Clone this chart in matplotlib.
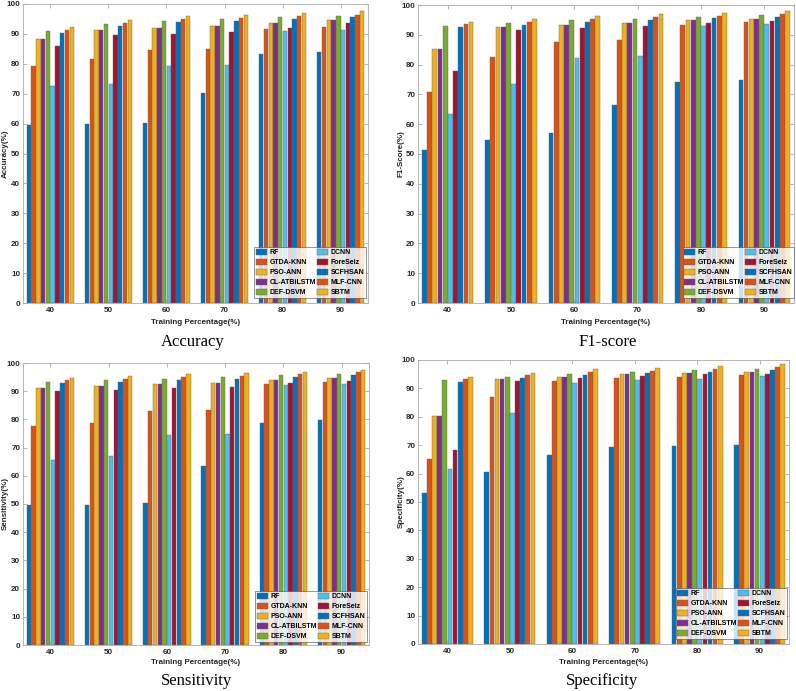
import matplotlib
matplotlib.use('Agg')
import matplotlib.pyplot as plt
import numpy as np

# training percentages (x groups)
train_pct = [40, 50, 60, 70, 80, 90]

methods_a = ['RF', 'GTDA-KNN', 'PSO-ANN', 'CL-ATBiLSTM', 'DEF-DSVM',
             'DCNN', 'ForeSeiz', 'SCFHSAN', 'MLF-CNN', 'SBTM']
methods_b = ['RF', 'GTDA-KNN', 'PSO-ANN', 'CL-ATBILSTM', 'DEF-DSVM',
             'DCNN', 'ForeSeiz', 'SCFHSAN', 'MLF-CNN', 'SBTM']

# MATLAB default colour order, repeated for the last three methods
colors = ['#0072BD', '#D95319', '#EDB120', '#7E2F8E', '#77AC30',
          '#4DBEEE', '#A2142F', '#0072BD', '#D95319', '#EDB120']

# values per method, one entry per training percentage
accuracy = {
    'RF':          [59.4, 59.7, 60.2, 70.3, 83.2, 83.8],
    'GTDA-KNN':    [79.2, 81.5, 84.6, 85.1, 91.6, 92.4],
    'PSO-ANN':     [88.2, 91.2, 92.0, 92.5, 93.5, 94.6],
    'CL-ATBiLSTM': [88.2, 91.2, 92.0, 92.5, 93.5, 94.6],
    'DEF-DSVM':    [90.9, 93.3, 94.3, 95.0, 95.5, 96.1],
    'DCNN':        [72.5, 73.4, 79.2, 79.6, 91.0, 91.2],
    'ForeSeiz':    [85.9, 89.5, 90.1, 90.6, 92.0, 93.7],
    'SCFHSAN':     [90.4, 92.7, 93.9, 94.4, 95.0, 95.5],
    'MLF-CNN':     [91.3, 93.7, 94.9, 95.4, 96.0, 96.4],
    'SBTM':        [92.2, 94.6, 95.9, 96.4, 96.9, 97.5],
}
f1_score = {
    'RF':          [51.3, 54.6, 57.2, 66.3, 74.2, 74.7],
    'GTDA-KNN':    [70.8, 82.6, 87.5, 88.1, 93.4, 94.2],
    'PSO-ANN':     [85.4, 92.5, 93.4, 94.0, 94.8, 95.3],
    'CL-ATBiLSTM': [85.4, 92.5, 93.4, 94.0, 94.8, 95.3],
    'DEF-DSVM':    [93.1, 94.0, 94.8, 95.4, 96.0, 96.5],
    'DCNN':        [63.4, 73.5, 82.1, 83.0, 92.8, 93.6],
    'ForeSeiz':    [77.7, 91.6, 92.4, 93.1, 94.0, 94.7],
    'SCFHSAN':     [92.5, 93.4, 94.3, 94.8, 95.5, 96.1],
    'MLF-CNN':     [93.5, 94.4, 95.3, 95.9, 96.4, 97.0],
    'SBTM':        [94.4, 95.4, 96.3, 96.9, 97.4, 98.0],
}
sensitivity = {
    'RF':          [49.6, 49.8, 50.2, 63.6, 78.9, 79.7],
    'GTDA-KNN':    [77.7, 78.9, 82.9, 83.3, 92.7, 93.2],
    'PSO-ANN':     [91.3, 92.0, 92.7, 93.0, 94.0, 94.6],
    'CL-ATBiLSTM': [91.3, 92.0, 92.7, 93.0, 94.0, 94.6],
    'DEF-DSVM':    [93.3, 93.9, 94.5, 95.0, 95.6, 96.1],
    'DCNN':        [65.6, 67.0, 74.6, 75.0, 92.3, 92.7],
    'ForeSeiz':    [90.0, 90.4, 91.2, 91.6, 93.0, 93.6],
    'SCFHSAN':     [92.8, 93.4, 93.9, 94.5, 94.9, 95.6],
    'MLF-CNN':     [93.8, 94.3, 94.9, 95.5, 96.0, 96.7],
    'SBTM':        [94.8, 95.4, 96.0, 96.5, 96.9, 97.6],
}
specificity = {
    'RF':          [53.3, 60.5, 66.6, 69.3, 69.8, 70.2],
    'GTDA-KNN':    [65.0, 86.9, 92.7, 93.5, 94.1, 94.8],
    'PSO-ANN':     [80.2, 93.2, 94.1, 94.9, 95.4, 95.9],
    'CL-ATBiLSTM': [80.2, 93.2, 94.1, 94.9, 95.4, 95.9],
    'DEF-DSVM':    [92.8, 94.1, 95.2, 95.8, 96.4, 96.8],
    'DCNN':        [61.5, 81.4, 91.8, 92.8, 93.4, 94.4],
    'ForeSeiz':    [68.4, 92.6, 93.8, 94.4, 94.9, 95.1],
    'SCFHSAN':     [92.2, 93.6, 94.7, 95.3, 95.9, 96.5],
    'MLF-CNN':     [93.2, 94.6, 95.8, 96.2, 96.8, 97.4],
    'SBTM':        [94.1, 95.5, 96.7, 97.2, 97.8, 98.5],
}

W, H = 796, 691
plt.rcParams['font.family'] = ['Liberation Sans Narrow', 'Liberation Sans', 'DejaVu Sans']

fig = plt.figure(figsize=(W / 100, H / 100), dpi=100)


def px_axes(l, t, r, b):
    return fig.add_axes([l / W, (H - b) / H, (r - l) / W, (b - t) / H])


def draw_panel(ax, data, labels, ylabel, title, title_xy, xlabel_y, ylabel_x, leg_anchor):
    keys = list(data.keys())
    n = len(keys)
    step = 0.82
    x = np.array(train_pct, dtype=float)
    for i, k in enumerate(keys):
        off = (i - (n - 1) / 2) * step
        ax.bar(x + off, data[k], width=step * 0.92, color=colors[i],
               edgecolor='#666666', linewidth=0.3, label=labels[i])
    ax.set_xlim(35.3, 94.7)
    ax.set_ylim(0, 100)
    ax.set_xticks(train_pct)
    ax.set_yticks(np.arange(0, 101, 10))
    ax.tick_params(direction='in', top=True, right=True, length=3,
                   width=0.5, color='#999999', labelsize=5.8,
                   labelcolor='#262626', pad=3)
    ax.tick_params(axis='y', pad=2)
    for lab in ax.get_xticklabels() + ax.get_yticklabels():
        lab.set_fontweight('bold')
    for s in ax.spines.values():
        s.set_color('#aaaaaa')
        s.set_linewidth(0.6)
    bb = ax.get_position()
    fig.text(ylabel_x / W, (bb.y0 + bb.y1) / 2, ylabel, rotation=90,
             ha='center', va='center', fontsize=5.8, fontweight='bold',
             color='#262626')
    fig.text((bb.x0 + bb.x1) / 2, 1 - xlabel_y / H, 'Training Percentage(%)',
             ha='center', va='center', fontsize=5.8, fontweight='bold',
             color='#262626')
    fig.text(title_xy[0] / W, 1 - title_xy[1] / H, title, ha='center',
             va='center', fontsize=12, family='Liberation Serif')
    leg = ax.legend(ncol=2, loc='lower right',
                    bbox_to_anchor=(leg_anchor[0] / W, 1 - leg_anchor[1] / H),
                    bbox_transform=fig.transFigure,
                    prop={'size': 5, 'weight': 'bold'}, frameon=True,
                    fancybox=False, borderpad=0.25, labelspacing=0.4,
                    handlelength=1.6, handleheight=0.9, handletextpad=0.3,
                    columnspacing=0.2, borderaxespad=0)
    leg.get_frame().set_edgecolor('#444444')
    leg.get_frame().set_linewidth(0.5)


ax1 = px_axes(23, 4, 368, 303)
draw_panel(ax1, accuracy, methods_a, 'Accuracy(%)', 'Accuracy', (193, 342), 322, 5, (366, 298))

ax2 = px_axes(418, 5, 794, 303)
draw_panel(ax2, f1_score, methods_b, 'F1-Score(%)', 'F1-score', (608, 342), 322, 401, (794, 298))

ax3 = px_axes(23, 363, 369, 645)
draw_panel(ax3, sensitivity, methods_b, 'Sensitivity(%)', 'Sensitivity', (197, 681), 663, 5, (367, 642))

ax4 = px_axes(418, 360, 789, 644)
draw_panel(ax4, specificity, methods_b, 'Specificity(%)', 'Specificity', (602, 681), 662, 401, (787, 639))

fig.savefig('out.png', dpi=100)
